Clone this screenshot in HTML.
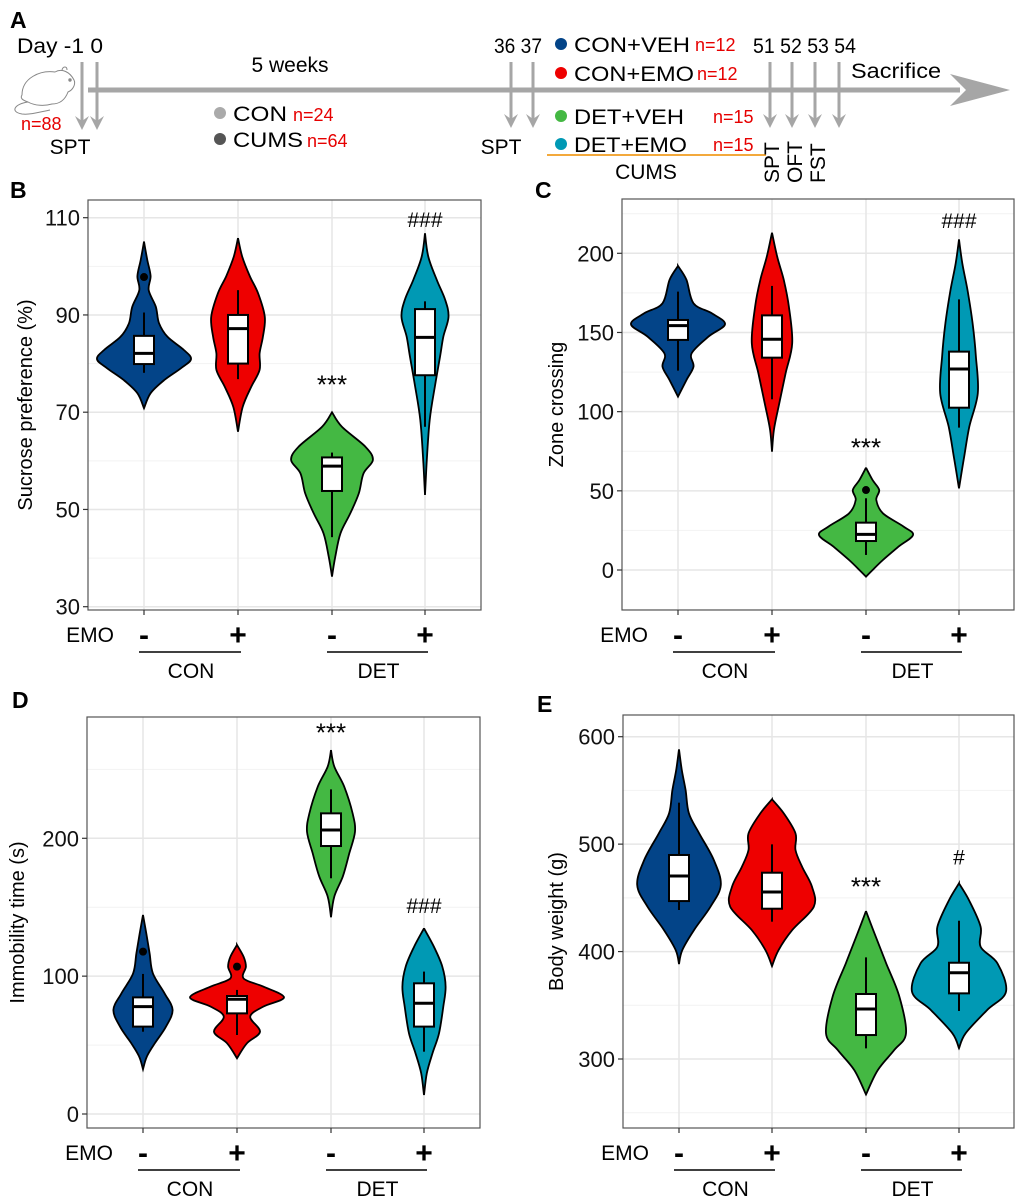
<!DOCTYPE html>
<html><head><meta charset="utf-8"><style>
body{margin:0;background:#fff;}
svg{display:block;font-family:"Liberation Sans",Arial,sans-serif;}
</style></head><body>
<svg id="fig" width="1020" height="1201" viewBox="0 0 1020 1201" xmlns="http://www.w3.org/2000/svg">
<g id="panelA">
  <text x="10" y="28" font-size="23" font-weight="bold">A</text>
  <text x="17" y="53" font-size="21" textLength="86" lengthAdjust="spacingAndGlyphs">Day -1 0</text>
  <line x1="88" y1="90" x2="960" y2="90" stroke="#a6a6a6" stroke-width="5"/>
  <path d="M950,74 L1010,90 L950,106 L966,90 Z" fill="#a6a6a6"/>
  <g fill="none" stroke="#888" stroke-width="1">
    <path d="M22,95 C22,78 40,70 55,72 C62,68 70,72 74,80 C76,84 73,90 68,92 C65,100 60,104 52,104 C45,106 35,106 28,102 C22,100 20,98 22,95 Z"/>
    <path d="M28,102 C14,104 10,112 22,114 C30,115 40,112 50,110"/>
    <circle cx="70" cy="80" r="1.2" fill="#888"/>
    <path d="M62,70 C63,66 67,66 67,70"/>
  </g>
  <text x="21" y="130" font-size="18" fill="#e60000">n=88</text>
  <text x="70" y="154" font-size="21" text-anchor="middle">SPT</text>
  <text x="290" y="72" font-size="21" text-anchor="middle">5 weeks</text>
  <circle cx="220" cy="113" r="6" fill="#aaa"/>
  <text x="233" y="121" font-size="21" textLength="54" lengthAdjust="spacingAndGlyphs">CON</text>
  <text x="293" y="121" font-size="18" fill="#e60000">n=24</text>
  <circle cx="220" cy="139" r="6" fill="#555"/>
  <text x="233" y="147" font-size="21" textLength="70" lengthAdjust="spacingAndGlyphs">CUMS</text>
  <text x="307" y="147" font-size="18" fill="#e60000">n=64</text>
  <text x="494" y="53" font-size="21" textLength="48" lengthAdjust="spacingAndGlyphs">36 37</text>
  <text x="501" y="154" font-size="21" text-anchor="middle">SPT</text>
  <circle cx="561" cy="44" r="6" fill="#034488"/>
  <text x="574" y="52" font-size="21" textLength="116" lengthAdjust="spacingAndGlyphs">CON+VEH</text>
  <text x="695" y="51" font-size="18" fill="#e60000">n=12</text>
  <circle cx="561" cy="73" r="6" fill="#ee0000"/>
  <text x="574" y="81" font-size="21" textLength="120" lengthAdjust="spacingAndGlyphs">CON+EMO</text>
  <text x="697" y="80" font-size="18" fill="#e60000">n=12</text>
  <circle cx="561" cy="116" r="6" fill="#44b843"/>
  <text x="574" y="124" font-size="21" textLength="110" lengthAdjust="spacingAndGlyphs">DET+VEH</text>
  <text x="713" y="123" font-size="18" fill="#e60000">n=15</text>
  <circle cx="561" cy="144" r="6" fill="#0099b4"/>
  <text x="574" y="152" font-size="21" textLength="113" lengthAdjust="spacingAndGlyphs">DET+EMO</text>
  <text x="713" y="151" font-size="18" fill="#e60000">n=15</text>
  <line x1="547" y1="155" x2="766" y2="155" stroke="#f3a93c" stroke-width="2"/>
  <text x="646" y="179" font-size="21" text-anchor="middle">CUMS</text>
  <text x="753" y="53" font-size="21" textLength="103" lengthAdjust="spacingAndGlyphs">51 52 53 54</text>
  <text x="851" y="78" font-size="21" textLength="90" lengthAdjust="spacingAndGlyphs">Sacrifice</text>
  <g font-size="21">
    <text transform="translate(779,183) rotate(-90)">SPT</text>
    <text transform="translate(802,183) rotate(-90)">OFT</text>
    <text transform="translate(825,183) rotate(-90)">FST</text>
  </g>
  <g id="tarrows"></g>
</g>
<g id="charts"></g>
</svg>
<script>
const groups = ["CON+VEH","CON+EMO","DET+VEH","DET+EMO"];
const fills = ["#034488","#ee0000","#44b843","#0099b4"];
const emoLabels = ["-","+","-","+"];

// Panel B sucrose preference
const sucroseDensY = [
 [105.1,101.3,98,95.1,91.7,88.3,85.5,82.8,80.9,79,76.6,73.9,70.8],
 [105.8,102,98,94.4,89.6,85.5,82.1,78.7,75.2,71.1,66.0],
 [70,67,62.9,60.2,57.4,53.3,49.2,45.1,40.3,36.2],
 [106.8,102,97.2,93.1,89.6,85.5,81.4,75.3,68.4,59.5,53]];
const sucroseDensW = [
 [0,0.07,0.14,0.1,0.25,0.32,0.5,0.85,1.0,0.78,0.43,0.14,0],
 [0,0.09,0.25,0.43,0.57,0.53,0.46,0.46,0.28,0.1,0],
 [0,0.21,0.71,0.87,0.67,0.57,0.39,0.18,0.07,0],
 [0,0.07,0.25,0.43,0.5,0.39,0.32,0.21,0.1,0.035,0]];
const sucroseBox = [[78.1,79.9,82.1,85.7,90.5],[76.8,80,87.2,90,95.1],[44.3,53.8,58.9,60.7,61.7],[67,77.6,85.4,91.2,92.8]];
const sucroseOut = [[97.8],[],[],[]];
const sucroseTicks = [30,50,70,90,110];
const sucroseMinor = [40,60,80,100];

// Panel C zone crossing
const zoneDensY = [
 [192,183.2,168.4,162.1,155.2,147.4,136.8,128.4,120,109.5],
 [213,197.9,183.2,166.3,143.2,124.2,103.2,88.4,74.7],
 [64.6,56.8,50.5,44.2,35.8,27.4,22.1,14.7,6.3,0,-4.2],
 [208.8,193.7,176.8,155.8,134.7,111.6,90.5,71.6,51.6]];
const zoneDensW = [
 [0,0.18,0.33,0.72,1.0,0.65,0.29,0.33,0.18,0],
 [0,0.11,0.25,0.36,0.43,0.29,0.14,0.04,0],
 [0,0.14,0.28,0.22,0.36,0.8,1.0,0.69,0.36,0.14,0],
 [0,0.07,0.18,0.29,0.36,0.4,0.22,0.11,0]];
const zoneBox = [[125.9,145.3,154.3,157.9,175.8],[107.8,134.1,145.7,160.8,179.4],[9.5,18.3,22.5,29.9,45.3],[89.9,102.5,126.9,137.9,170.9]];
const zoneOut = [[],[],[50.5],[]];
const zoneTicks = [0,50,100,150,200];
const zoneMinor = [-25,25,75,125,175,225];

// Panel D immobility
const immDensY = [
 [144.4,131,116.6,102,87.5,75.5,63.4,51.3,41.6,32.4],
 [122.6,114.1,106.9,98.4,92.4,84.6,77.9,70.6,59.7,51.3,40.4],
 [264,252,237.5,218.1,204.8,189.1,172.2,157.7,142.7],
 [134.7,121.4,106.9,92.4,77.9,58.5,44,29.5,13.8]];
const immDensW = [
 [0,0.07,0.14,0.21,0.46,0.63,0.49,0.25,0.08,0],
 [0,0.14,0.19,0.14,0.56,1.0,0.56,0.28,0.49,0.21,0],
 [0,0.07,0.28,0.46,0.51,0.39,0.25,0.07,0],
 [0,0.21,0.39,0.46,0.41,0.32,0.18,0.06,0]];
const immBox = [[59.7,63.4,77.9,84.6,101.6],[57.3,73,83.2,85.6,90],[171,194.4,206,218.1,235.5],[45.2,63.4,80.3,94.8,103.3]];
const immOut = [[117.8],[106.9],[],[]];
const immTicks = [0,100,200];
const immMinor = [50,150,250];

// Panel E body weight
const bwDensY = [
 [588.2,569,550.4,528.7,510,485.2,462,441.8,420,401.4,388.4],
 [541.7,528.6,510,494.5,479,460.4,441.8,420,401.4,386.5],
 [437.7,416.9,389,358,323.9,308.3,289.7,267],
 [463.5,448,423.1,404.5,389,362.6,345.6,323.9,310]];
const bwDensW = [
 [0,0.06,0.14,0.21,0.43,0.74,0.89,0.67,0.32,0.07,0],
 [0,0.25,0.5,0.5,0.64,0.85,0.89,0.43,0.14,0],
 [0,0.18,0.43,0.71,0.85,0.6,0.25,0],
 [0,0.21,0.46,0.46,0.82,1.0,0.6,0.14,0]];
const bwBox = [[438.7,447,470.3,489.9,538.6],[427.8,439.9,455.4,473.4,499.8],[309.9,322.3,346.5,360.5,394.6],[344.7,361.1,380.3,389.6,428.7]];
const bwOut = [[],[],[],[]];
const bwTicks = [300,400,500,600];
const bwMinor = [250,350,450,550];

const NS="http://www.w3.org/2000/svg";
function mk(tag, attrs, parent){const e=document.createElementNS(NS,tag);for(const k in attrs)e.setAttribute(k,attrs[k]);parent.appendChild(e);return e;}

const ta=document.getElementById('tarrows');
[[82,62,130],[97,62,130],[511,62,128],[533,62,128],[770,62,128],[792,62,128],[815,62,128],[839,62,128]].forEach(a=>{
  const l=mk('line',{x1:a[0],y1:a[1],x2:a[0],y2:a[2]-8,stroke:'#a6a6a6','stroke-width':3},ta);
  
  
  const h=mk('path',{d:`M${a[0]-7},${a[2]-14} L${a[0]},${a[2]} L${a[0]+7},${a[2]-14} L${a[0]},${a[2]-9} Z`,fill:'#a6a6a6'},ta);
  
  
});

function smoothPath(pts){
  let d='';
  for(let i=0;i<pts.length-1;i++){
    const p0=pts[Math.max(0,i-1)],p1=pts[i],p2=pts[i+1],p3=pts[Math.min(pts.length-1,i+2)];
    const c1=[p1[0]+(p2[0]-p0[0])/6,p1[1]+(p2[1]-p0[1])/6];
    const c2=[p2[0]-(p3[0]-p1[0])/6,p2[1]-(p3[1]-p1[1])/6];
    d+=` C${c1[0].toFixed(1)},${c1[1].toFixed(1)} ${c2[0].toFixed(1)},${c2[1].toFixed(1)} ${p2[0].toFixed(1)},${p2[1].toFixed(1)}`;
  }
  return d;
}

const panels=[
 {id:'b',letter:'B',lx:10,ly:198,left:88,right:481,top:200,bottom:610,yv0:110,yp0:217.7,yv1:30,yp1:606.7,xs:[144,238,332,425],title:'Sucrose preference (%)',tx:26,dy:sucroseDensY,dw:sucroseDensW,box:sucroseBox,out:sucroseOut,ticks:sucroseTicks,minor:sucroseMinor,ann:[[2,'***',75.5,26],[3,'###',109.7,21]]},
 {id:'c',letter:'C',lx:535,ly:198,left:622,right:1014,top:199,bottom:610,yv0:200,yp0:253.3,yv1:0,yp1:570,xs:[678,772,866,959],title:'Zone crossing',tx:557,dy:zoneDensY,dw:zoneDensW,box:zoneBox,out:zoneOut,ticks:zoneTicks,minor:zoneMinor,ann:[[2,'***',76.8,26],[3,'###',221,21]]},
 {id:'d',letter:'D',lx:12,ly:708,left:87,right:480,top:717,bottom:1128,yv0:200,yp0:838.3,yv1:0,yp1:1114,xs:[143,237,331,424],title:'Immobility time (s)',tx:18,dy:immDensY,dw:immDensW,box:immBox,out:immOut,ticks:immTicks,minor:immMinor,ann:[[2,'***',276,26],[3,'###',151.6,21]]},
 {id:'e',letter:'E',lx:537,ly:712,left:623,right:1014,top:715,bottom:1128,yv0:600,yp0:736.7,yv1:300,yp1:1059,xs:[679,772,866,959],title:'Body weight (g)',tx:557,dy:bwDensY,dw:bwDensW,box:bwBox,out:bwOut,ticks:bwTicks,minor:bwMinor,ann:[[2,'***',459.8,26],[3,'#',488.3,21]]}
];
const S=47;
const root=document.getElementById('charts');
panels.forEach(P=>{
  const g=mk('g',{},root);
  
  
  const y=v=>P.yp0+(v-P.yv0)*(P.yp1-P.yp0)/(P.yv1-P.yv0);
  const lt=mk('text',{x:P.lx,y:P.ly,'font-size':23,'font-weight':'bold'},g); lt.textContent=P.letter;
  
  
  P.minor.forEach(v=>{const yy=y(v); if(yy>P.top&&yy<P.bottom){const l=mk('line',{x1:P.left,x2:P.right,y1:yy,y2:yy,stroke:'#f2f2f2','stroke-width':1},g);
    
    }});
  P.ticks.forEach(v=>{const l=mk('line',{x1:P.left,x2:P.right,y1:y(v),y2:y(v),stroke:'#e6e6e6','stroke-width':1.5},g);
    
    });
  P.xs.forEach(x=>{const l=mk('line',{x1:x,x2:x,y1:P.top,y2:P.bottom,stroke:'#e6e6e6','stroke-width':1.5},g);
    
    });
  P.dy.forEach((vals,i)=>{
    const cx=P.xs[i];
    const right=vals.map((v,k)=>[cx+P.dw[i][k]*S,y(v)]);
    const left=vals.map((v,k)=>[cx-P.dw[i][k]*S,y(v)]).reverse();
    const d='M'+right[0][0]+','+right[0][1]+smoothPath(right)+smoothPath(left)+'Z';
    const p=mk('path',{d:d,fill:fills[i],stroke:'#000','stroke-width':1.8},g);
    
    
    const b=P.box[i];
    const w=mk('line',{x1:cx,x2:cx,y1:y(b[0]),y2:y(b[4]),stroke:'#000','stroke-width':2},g);
    
    
    const r=mk('rect',{x:cx-10,y:y(b[3]),width:20,height:y(b[1])-y(b[3]),fill:'#fff',stroke:'#000','stroke-width':2},g);
    
    
    const m=mk('line',{x1:cx-10,x2:cx+10,y1:y(b[2]),y2:y(b[2]),stroke:'#000','stroke-width':3},g);
    
    
    P.out[i].forEach(o=>{const c=mk('circle',{cx:cx,cy:y(o),r:4,fill:'#000'},g);
      
      });
  });
  P.ann.forEach(a=>{const t=mk('text',{x:P.xs[a[0]],y:y(a[2])+8,'font-size':a[3],'text-anchor':'middle'},g);t.textContent=a[1];
    
    });
  const fr=mk('rect',{x:P.left,y:P.top,width:P.right-P.left,height:P.bottom-P.top,fill:'none',stroke:'#555','stroke-width':1.2},g);
  
  
  P.ticks.forEach(v=>{
    const tk=mk('line',{x1:P.left-5,x2:P.left,y1:y(v),y2:y(v),stroke:'#333','stroke-width':1.2},g);
    
    
    const t=mk('text',{x:P.left-8,y:y(v)+8,'font-size':22,'text-anchor':'end',fill:'#111'},g);t.textContent=v;
    
    
  });
  const tt=mk('text',{transform:`translate(${P.tx},${(P.top+P.bottom)/2}) rotate(-90)`,'font-size':20,'text-anchor':'middle','dominant-baseline':'central'},g);tt.textContent=P.title;
  
  
  P.xs.forEach((x,i)=>{
    const tk=mk('line',{x1:x,x2:x,y1:P.bottom,y2:P.bottom+5,stroke:'#333','stroke-width':1.2},g);
    
    
    const t=mk('text',{x:x,y:P.bottom+35,'font-size':30,'font-weight':'bold','text-anchor':'middle'},g);t.textContent=emoLabels[i];
    
    
  });
  const e=mk('text',{x:P.xs[0]-30,y:P.bottom+32,'font-size':21,'text-anchor':'end'},g);e.textContent='EMO';
  
  
  [['CON',0,1],['DET',2,3]].forEach(c=>{
    const ly=P.bottom+42;
    const l=mk('line',{x1:P.xs[c[1]]-5,x2:P.xs[c[2]]+3,y1:ly,y2:ly,stroke:'#000','stroke-width':1.5},g);
    
    
    const t=mk('text',{x:(P.xs[c[1]]+P.xs[c[2]])/2,y:ly+26,'font-size':21,'text-anchor':'middle'},g);t.textContent=c[0];
    
    
  });
});
</script>
</body></html>
